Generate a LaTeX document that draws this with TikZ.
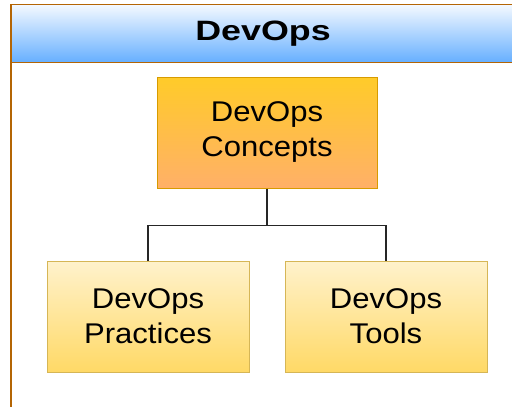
\documentclass[tikz,border=0pt]{standalone}
\usepackage{fontspec}
\setmainfont[FakeStretch=1.09]{Liberation Sans}
\newfontfamily\titlefont[FakeStretch=1.28]{Liberation Sans}
\usetikzlibrary{positioning}

\definecolor{frameline}{HTML}{B46504}
\definecolor{headtop}{HTML}{F4F9FF}
\definecolor{headbot}{HTML}{66AFFF}
\definecolor{conctop}{HTML}{FFCB29}
\definecolor{concbot}{HTML}{FFB068}
\definecolor{concline}{HTML}{D79B00}
\definecolor{subtop}{HTML}{FFF2CC}
\definecolor{subbot}{HTML}{FFD966}
\definecolor{subline}{HTML}{D6B656}

\tikzset{
    box/.style={draw, line width=1pt, align=center,
        font=\fontsize{28.5}{35}\selectfont},
    mainbox/.style={box, draw=concline, top color=conctop, bottom color=concbot,
        minimum width=220pt, minimum height=111pt},
    subbox/.style={box, draw=subline, top color=subtop, bottom color=subbot,
        minimum width=202pt, minimum height=111pt},
    link/.style={draw=black!85, line width=1.4pt}
}

\begin{document}
\begin{tikzpicture}[x=1pt,y=-1pt]
        \useasboundingbox (0,0) rectangle (512,407);
        % Frame and header
        \fill[white] (11,4.5) rectangle (515,407.4);
        \shade[top color=headtop, bottom color=headbot] (11,4.5) rectangle (515,62.5);
        \draw[frameline, line width=1.6pt] (11,4.5) rectangle (515,407.4);
        \draw[frameline, line width=1.6pt] (11,62.5) -- (515,62.5);
        \node (title) at (263,34) {\titlefont\bfseries\fontsize{28}{32}\selectfont DevOps};
        % Boxes
        \node[mainbox] (concepts) at (267,132.5) {DevOps\\Concepts};
        \node[subbox] (practices) at (148,316.5) {DevOps\\Practices};
        \node[subbox] (tools) at (386,316.5) {DevOps\\Tools};
        % Links
        \coordinate (fork) at ([yshift=-37pt]concepts.south);
        \draw[link] (concepts.south) -- (fork);
        \foreach \n in {practices, tools}
            \draw[link] (fork) -| (\n.north);
    \end{tikzpicture}
\end{document}
